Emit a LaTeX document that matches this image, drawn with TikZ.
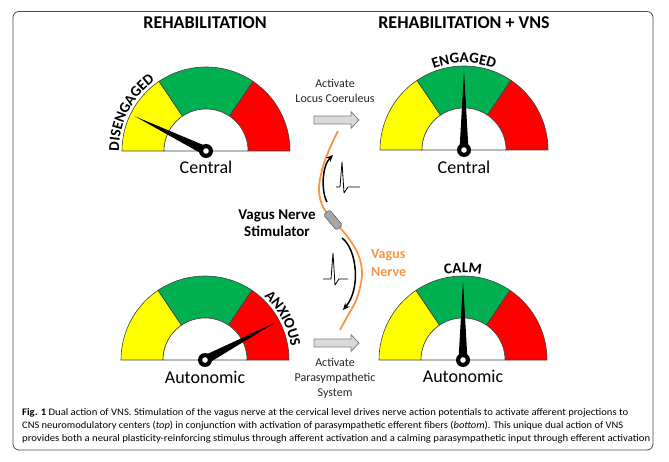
\documentclass[tikz,border=0pt]{standalone}
\usepackage{fontspec}
\setmainfont{Carlito}
\usetikzlibrary{decorations.text, arrows.meta}
\definecolor{gyellow}{HTML}{FFFF00}
\definecolor{ggreen}{HTML}{00B050}
\definecolor{gred}{HTML}{FF0000}
\definecolor{nervec}{HTML}{F79646}
\definecolor{arrfill}{HTML}{D9D9D9}
\definecolor{arredge}{HTML}{7F7F7F}
\definecolor{outl}{HTML}{404040}
\tikzset{
  seg/.style={draw=outl, line width=0.6},
  title/.style={anchor=base, font=\fontsize{18}{20}\selectfont\bfseries},
  gaugelabel/.style={anchor=base, font=\fontsize{18}{20}\selectfont},
  small/.style={anchor=base, font=\fontsize{12}{14}\selectfont, text=black!85},
  blockarrow/.style={fill=arrfill, draw=arredge, line width=0.8},
  spike/.style={line width=0.8, line join=round},
  flow/.style={line width=1.5, -{Stealth[length=7pt,width=6pt]}},
}
\newcommand\drawgauge[3]{%
 \begin{scope}[shift={(#1,#2)}]
  \filldraw[seg, fill=gyellow] (180:84) arc[start angle=180,end angle=124,radius=84] -- (124:42) arc[start angle=124,end angle=180,radius=42] -- cycle;
  \filldraw[seg, fill=ggreen] (124:84) arc[start angle=124,end angle=56,radius=84] -- (56:42) arc[start angle=56,end angle=124,radius=42] -- cycle;
  \filldraw[seg, fill=gred] (56:84) arc[start angle=56,end angle=0,radius=84] -- (0:42) arc[start angle=0,end angle=56,radius=42] -- cycle;
  \filldraw[seg, fill=white] (180:42) arc[start angle=180,end angle=0,radius=42] -- cycle;
  \fill[black] (#3:79) -- (#3+90:4.5) -- (#3-90:4.5) -- cycle;
  \fill[black] (0,0) circle[radius=7];
  \fill[white] (0,0) circle[radius=2.8];
 \end{scope}}
\newcommand\blockarr[2]{%
  \filldraw[blockarrow] (#1,#2+4) -- (#1+37,#2+4) -- (#1+37,#2+8.3) -- (#1+45,#2) -- (#1+37,#2-8.3) -- (#1+37,#2-4) -- (#1,#2-4) -- cycle;}
\begin{document}
\begin{tikzpicture}[x=1pt,y=1pt]
\useasboundingbox (0,0) rectangle (669,461);
\fill[white] (0,0) rectangle (669,461);
\draw[rounded corners=6pt, draw=black!70, line width=0.8] (13,11) rectangle (653,449.5);

% titles
\node[title] (t1) at (205,432) {REHABILITATION};
\node[title] (t2) at (464,432) {REHABILITATION + VNS};

% gauges
\drawgauge{206}{310}{154}
\drawgauge{464}{311}{90}
\drawgauge{205}{101}{28}
\drawgauge{463}{101}{90}

% curved labels
\path[decorate, decoration={text along path, text align=center,
  text={|\fontsize{15}{15}\selectfont\bfseries|DISENGAGED}}]
  (206,310) ++(192:87) arc[start angle=192,end angle=114,radius=87];
\path[decorate, decoration={text along path, text align=center,
  text={|\fontsize{15}{15}\selectfont\bfseries|ENGAGED}}]
  (464,311) ++(135:87) arc[start angle=135,end angle=45,radius=87];
\path[decorate, decoration={text along path, text align=center,
  text={|\fontsize{15}{15}\selectfont\bfseries|ANXIOUS}}]
  (205,101) ++(72:87) arc[start angle=72,end angle=-16,radius=87];
\path[decorate, decoration={text along path, text align=center,
  text={|\fontsize{15}{15}\selectfont\bfseries|CALM}}]
  (463,101) ++(130:87) arc[start angle=130,end angle=50,radius=87];

% gauge captions
\node[gaugelabel] (c1) at (206,287) {Central};
\node[gaugelabel] (c2) at (464,287) {Central};
\node[gaugelabel] (a1) at (205,78) {Autonomic};
\node[gaugelabel] (a2) at (463,79) {Autonomic};

% block arrows and their texts
\blockarr{314}{341}
\blockarr{314}{118}
\node[small] (l1) at (335,373) {Activate};
\node[small] (l2) at (335,358) {Locus Coeruleus};
\node[small] (p1) at (335,95) {Activate};
\node[small] (p2) at (335,80) {Parasympathetic};
\node[small] (p3) at (335,65) {System};

% vagus nerve
\draw[nervec, line width=1.8] plot[smooth, tension=0.6] coordinates
  {(338,330) (329,311) (322,291) (319,271) (323,254) (333,241) (347,225) (358,207) (362,187) (357,163) (347,144) (340,131)};
\node[draw=black!75, fill=black!35, rounded corners=1.5pt, minimum width=20pt, minimum height=8pt, inner sep=0pt, rotate=-50] (stim) at (333,241) {};

% action potential arrows
\draw[flow] (327,259) .. controls (321,270) and (322,295) .. (333,306);
\draw[flow] (342,223) .. controls (357,212) and (361,172) .. (343,151);

% spikes
\draw[spike] (336,274) -- (340,274) -- (342,299) -- (344,268) -- (348,274) -- (360,274);
\draw[spike] (323,182) -- (331,182) -- (333,208) -- (335,176) -- (339,182) -- (348,182);

% labels
\node[anchor=base, font=\fontsize{15}{17}\selectfont\bfseries] (s1) at (277,241) {Vagus Nerve};
\node[anchor=base, font=\fontsize{15}{17}\selectfont\bfseries] (s2) at (277,224) {Stimulator};
\node[anchor=base west, inner sep=0pt, font=\fontsize{14}{16}\selectfont\bfseries, text=nervec] (v1) at (371,202) {Vagus};
\node[anchor=base west, inner sep=0pt, font=\fontsize{14}{16}\selectfont\bfseries, text=nervec] (v2) at (371,185) {Nerve};

% caption
\node[anchor=base west, inner sep=0pt, font=\fontsize{10}{12}\selectfont] (cap1) at (22,46) {\resizebox{606pt}{\height}{\textbf{Fig. 1} Dual action of VNS. Stimulation of the vagus nerve at the cervical level drives nerve action potentials to activate afferent projections to}};
\node[anchor=base west, inner sep=0pt, font=\fontsize{10}{12}\selectfont] (cap2) at (22,33) {\resizebox{601pt}{\height}{CNS neuromodulatory centers (\textit{top}) in conjunction with activation of parasympathetic efferent fibers (\textit{bottom}). This unique dual action of VNS}};
\node[anchor=base west, inner sep=0pt, font=\fontsize{10}{12}\selectfont] (cap3) at (22,20) {\resizebox{628pt}{\height}{provides both a neural plasticity-reinforcing stimulus through afferent activation and a calming parasympathetic input through efferent activation}};
\end{tikzpicture}
\end{document}
